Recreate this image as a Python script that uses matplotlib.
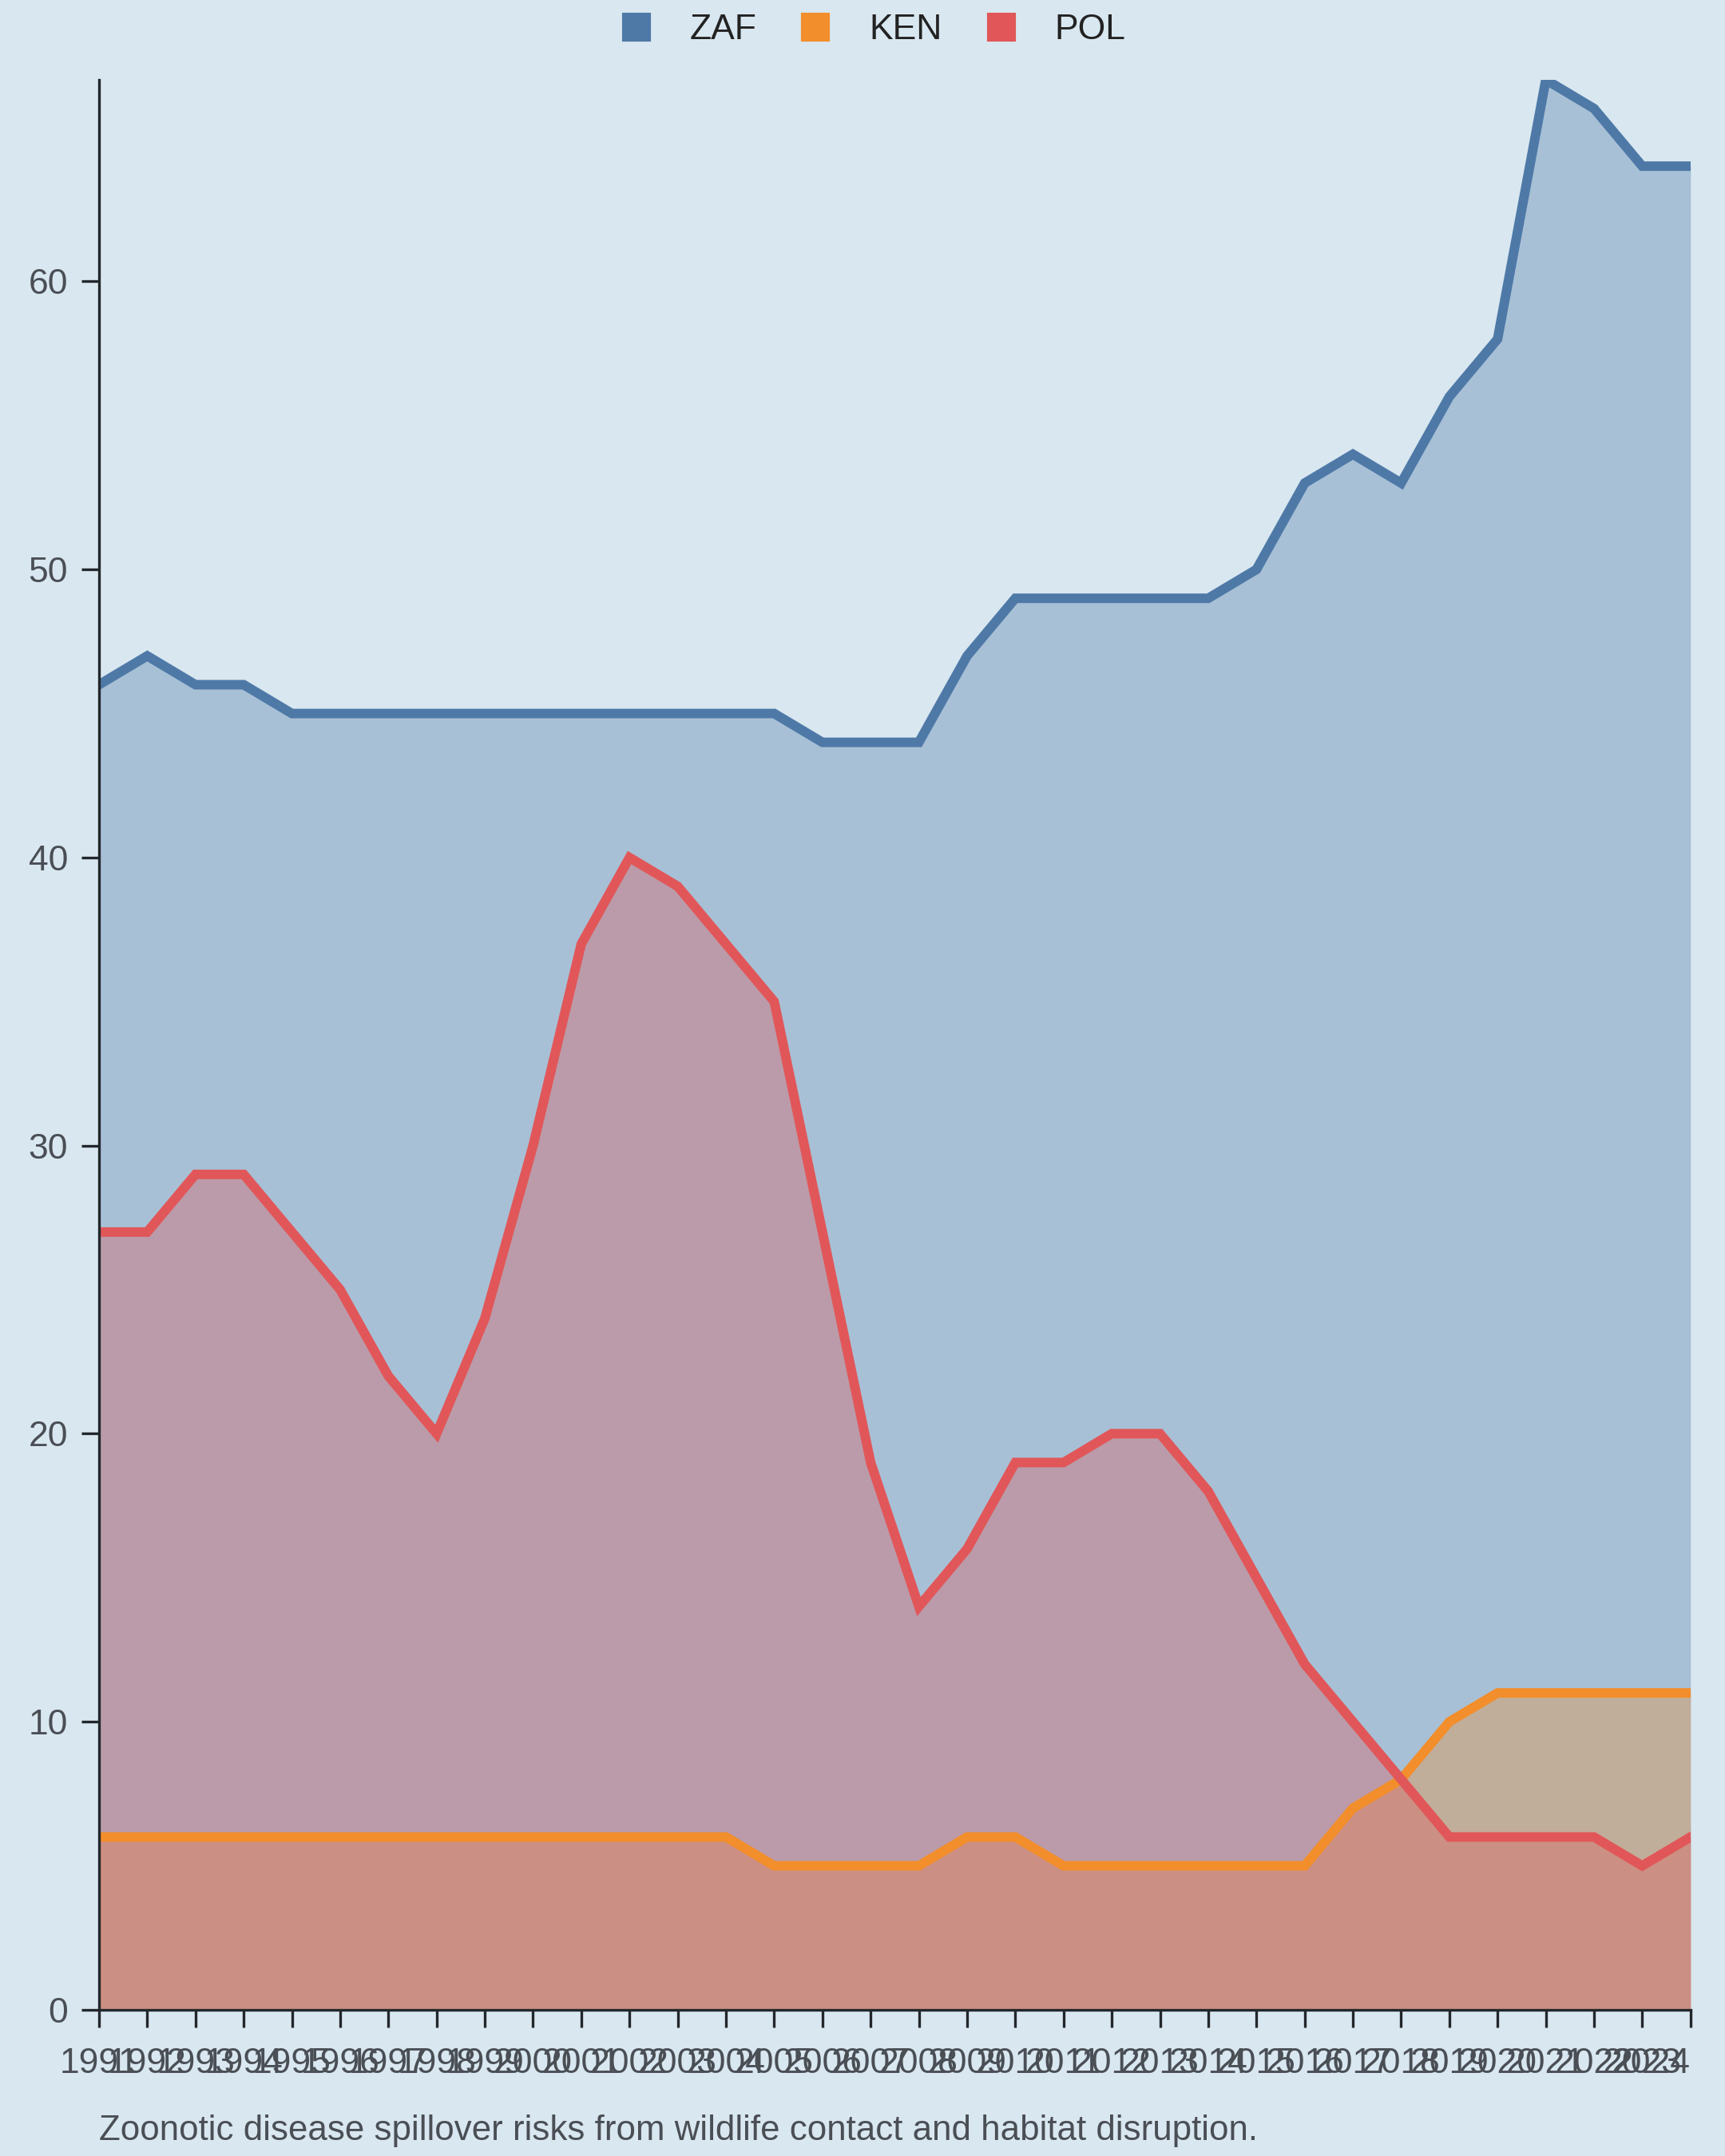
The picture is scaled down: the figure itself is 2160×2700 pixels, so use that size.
import matplotlib
matplotlib.use('Agg')
import matplotlib.pyplot as plt
from matplotlib.patches import Patch

plt.rcParams['font.family'] = ['Liberation Sans', 'DejaVu Sans']

# Datos
years = list(range(1991, 2025))
zaf = [46, 47, 46, 46, 45, 45, 45, 45, 45, 45, 45, 45, 45, 45, 45, 44, 44, 44,
       47, 49, 49, 49, 49, 49, 50, 53, 54, 53, 56, 58, 67, 66, 64, 64]
ken = [6, 6, 6, 6, 6, 6, 6, 6, 6, 6, 6, 6, 6, 6, 5, 5, 5, 5,
       6, 6, 5, 5, 5, 5, 5, 5, 7, 8, 10, 11, 11, 11, 11, 11]
pol = [27, 27, 29, 29, 27, 25, 22, 20, 24, 30, 37, 40, 39, 37, 35, 27, 19, 14,
       16, 19, 19, 20, 20, 18, 15, 12, 10, 8, 6, 6, 6, 6, 5, 6]

series = [('ZAF', zaf, '#4e79a7'), ('KEN', ken, '#f28e2b'), ('POL', pol, '#e15759')]
caption = 'Zoonotic disease spillover risks from wildlife contact and habitat disruption.'

bg_color = '#d9e7f0'
axis_color = '#22272b'
tick_text = '#4a4f55'

fig = plt.figure(figsize=(10.8, 13.5), dpi=200, facecolor=bg_color)
ax = fig.add_axes([0.0574, 0.0678, 0.9226, 0.8952])
ax.set_facecolor(bg_color)

# Areas + lineas, en orden
for name, vals, color in series:
    ax.fill_between(years, 0, vals, color=color, alpha=0.35, linewidth=0)
    ax.plot(years, vals, color=color, linewidth=4.3, solid_joinstyle='miter')

ax.set_xlim(years[0], years[-1])
ax.set_ylim(0, max(zaf))
ax.set_xticks(years)
ax.set_xticklabels([str(y) for y in years])
ax.set_yticks([0, 10, 20, 30, 40, 50, 60])

ax.spines['top'].set_visible(False)
ax.spines['right'].set_visible(False)
for side in ('left', 'bottom'):
    ax.spines[side].set_color(axis_color)
    ax.spines[side].set_linewidth(1.2)
ax.tick_params(axis='both', colors=axis_color, labelcolor=tick_text,
               labelsize=16, length=8, width=1.2, pad=6)
ax.tick_params(axis='x', pad=9)
# ultima etiqueta alineada al borde
ax.get_xticklabels()[-1].set_ha('right')

handles = [Patch(facecolor=c, edgecolor=c, linewidth=1.5, joinstyle='round', label=n)
           for n, _, c in series]
fig.legend(handles=handles, loc='center', bbox_to_anchor=(0.507, 0.986),
           ncol=3, frameon=False, fontsize=16, handlelength=0.72, handleheight=0.72,
           handletextpad=1.15, columnspacing=1.3, labelcolor='#222222',
           borderpad=0, borderaxespad=0)

fig.text(0.0574, 0.0074, caption, fontsize=15.8, color=tick_text, ha='left', va='baseline')

fig.savefig('out.png', dpi=200, facecolor=bg_color)
